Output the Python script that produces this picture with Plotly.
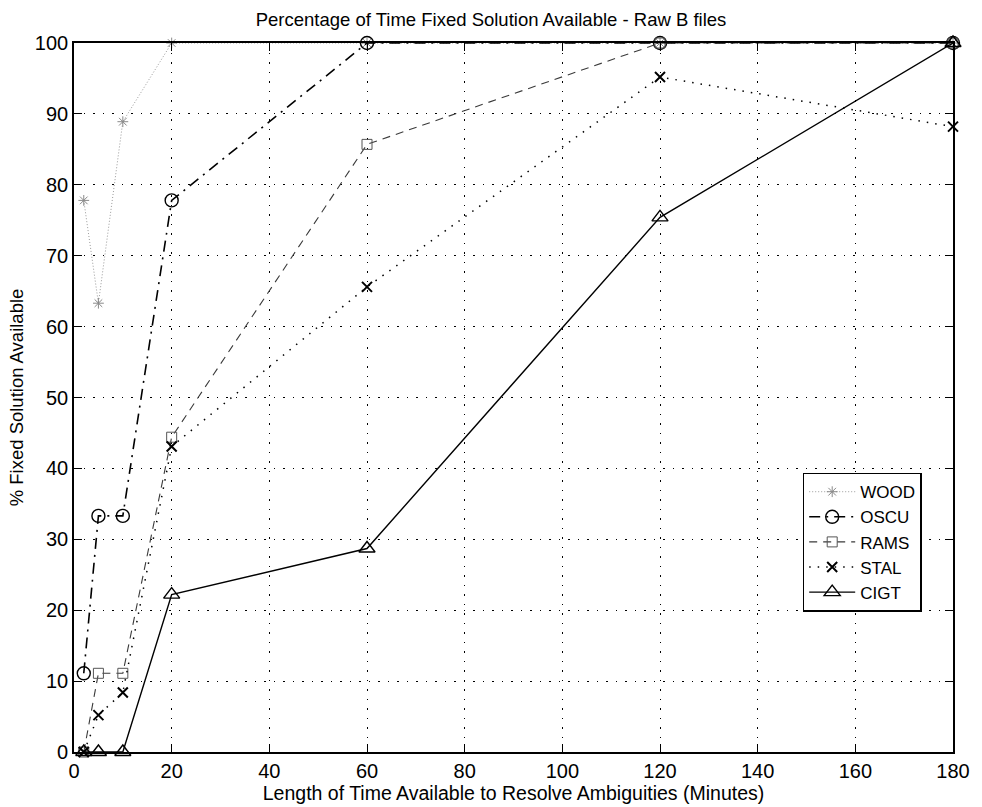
import plotly.graph_objects as go

x_minutes = [2, 5, 10, 20, 60, 120, 180]
wood = [77.8, 63.3, 88.9, 100, 100, 100, 100]
oscu = [11.1, 33.3, 33.3, 77.8, 100, 100, 100]
rams = [0, 11.1, 11.1, 44.4, 85.7, 100, 100]
stal = [0, 5.2, 8.4, 43.1, 65.6, 95.2, 88.2]
cigt = [0, 0, 0, 22.2, 28.7, 75.4, 100]

x_ticks = [0, 20, 40, 60, 80, 100, 120, 140, 160, 180]
y_ticks = [0, 10, 20, 30, 40, 50, 60, 70, 80, 90, 100]

FONT = "Liberation Sans, Arial, Helvetica, sans-serif"

series = [
    ("WOOD", wood, dict(color="#9a9a9a", width=1, dash="1px,2px"),
     dict(symbol="asterisk-open", size=9, color="#8a8a8a", line=dict(width=1, color="#8a8a8a"))),
    ("OSCU", oscu, dict(color="black", width=1.6, dash="11px,6px,2px,6px"),
     dict(symbol="circle-open", size=13, color="black", line=dict(width=1.4, color="black"))),
    ("RAMS", rams, dict(color="#3a3a3a", width=1.1, dash="8px,6px"),
     dict(symbol="square-open", size=10, color="#555555", line=dict(width=1, color="#555555"))),
    ("STAL", stal, dict(color="black", width=1.5, dash="1.5px,7px"),
     dict(symbol="x-thin-open", size=10, color="black", line=dict(width=2, color="black"))),
    ("CIGT", cigt, dict(color="black", width=1.4, dash="solid"),
     dict(symbol="triangle-up-open", size=14, color="black", line=dict(width=1.4, color="black"))),
]

fig = go.Figure()
for name, ys, ln, mk in series:
    fig.add_trace(go.Scatter(x=x_minutes, y=ys, name=name, mode="lines+markers",
                             line=ln, marker=mk, cliponaxis=False))

axis_common = dict(
    showline=True, linecolor="black", linewidth=1.6, mirror="ticks",
    ticks="inside", ticklen=8, tickwidth=1.4, tickcolor="black",
    showgrid=True, gridcolor="black", gridwidth=1.2, griddash="1.5px,8px",
    zeroline=False, tickfont=dict(family=FONT, size=20, color="black"),
)

fig.update_layout(
    width=982, height=807,
    paper_bgcolor="white", plot_bgcolor="white",
    margin=dict(l=74, r=26, t=43, b=53),
    title=dict(text="Percentage of Time Fixed Solution Available - Raw B files",
               x=0.5, xanchor="center", y=1 - 20 / 807, yanchor="middle",
               font=dict(family=FONT, size=18.5, color="black")),
    xaxis=dict(range=[0, 180], tickvals=x_ticks, **axis_common,
               title=dict(text="Length of Time Available to Resolve Ambiguities (Minutes)",
                          font=dict(family=FONT, size=19.5, color="black"), standoff=0)),
    yaxis=dict(range=[0, 100], tickvals=y_ticks, **axis_common,
               title=dict(text="% Fixed Solution Available",
                          font=dict(family=FONT, size=18.5, color="black"), standoff=6)),
    legend=dict(x=0.829, y=0.394, xanchor="left", yanchor="top",
                bgcolor="white", bordercolor="black", borderwidth=1.5,
                font=dict(family=FONT, size=17, color="black"),
                tracegroupgap=0, itemwidth=46),
    showlegend=True,
)

fig.write_html("out.html")
